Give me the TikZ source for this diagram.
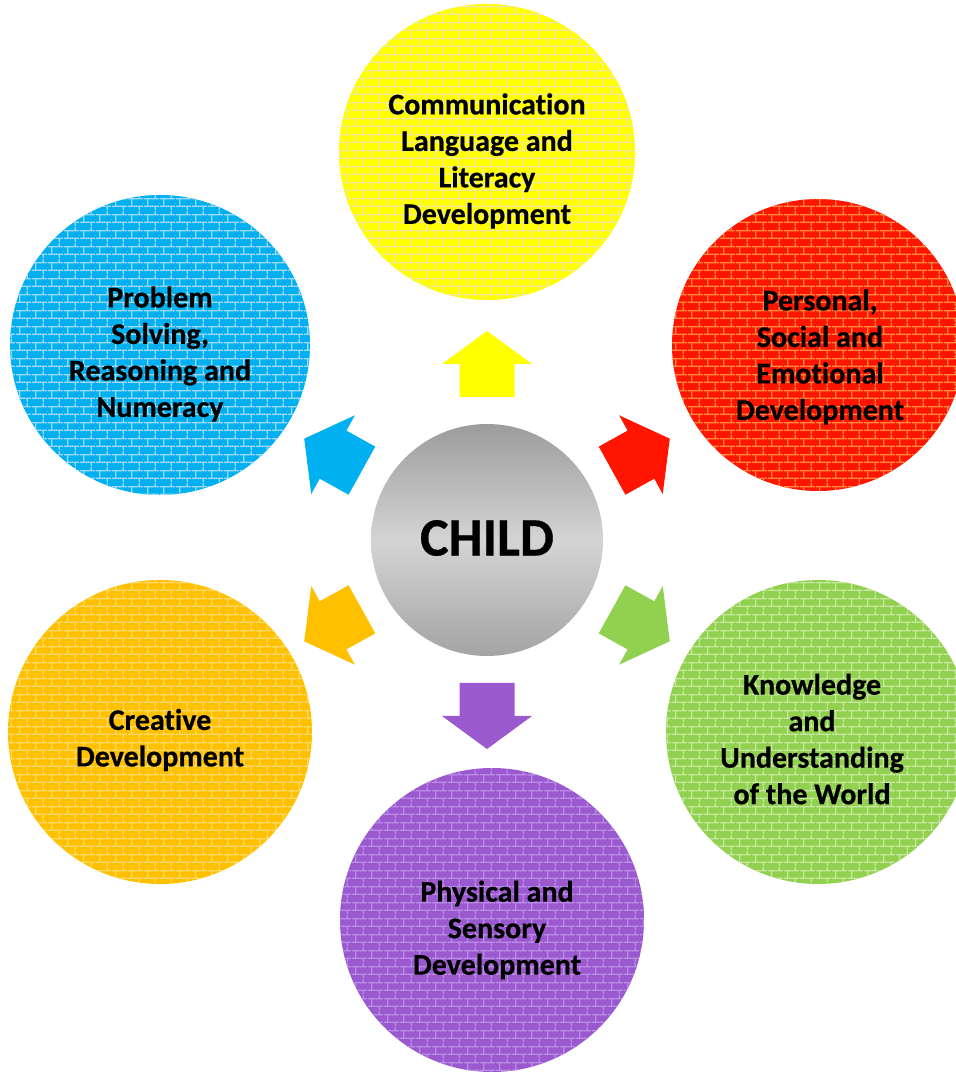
\documentclass[tikz,border=0pt]{standalone}
\usepackage{fontspec}
\setmainfont{Carlito}[Ligatures=NoCommon, BoldFeatures={FakeBold=0.5}]
\usetikzlibrary{patterns.meta}
\definecolor{cyel}{HTML}{FFFF00}
\definecolor{myel}{HTML}{F2E8A0}
\definecolor{cred}{HTML}{FF1500}
\definecolor{mred}{HTML}{FF8A3C}
\definecolor{cblu}{HTML}{00B0F0}
\definecolor{mblu}{HTML}{A2DAF6}
\definecolor{cora}{HTML}{FFC000}
\definecolor{mora}{HTML}{FFDA6A}
\definecolor{cgrn}{HTML}{92D050}
\definecolor{mgrn}{HTML}{C6E8A0}
\definecolor{cpur}{HTML}{9B59D0}
\definecolor{mpur}{HTML}{BB8CE6}
\definecolor{gtop}{HTML}{9C9C9C}
\definecolor{gmid}{HTML}{D4D4D4}
\definecolor{gbot}{HTML}{A4A4A4}
\tikzdeclarepattern{
  name=brickwall,
  type=uncolored,
  bottom left={(0pt,0pt)},
  top right={(16pt,16pt)},
  tile size={(16pt,16pt)},
  code={
    \draw[line width=1.3pt] (0pt,4pt) -- (16pt,4pt);
    \draw[line width=1.3pt] (0pt,12pt) -- (16pt,12pt);
    \draw[line width=1.3pt] (4pt,4pt) -- (4pt,12pt);
    \draw[line width=1.3pt] (12pt,12pt) -- (12pt,16pt);
    \draw[line width=1.3pt] (12pt,0pt) -- (12pt,4pt);
  }
}
\tikzset{
  bubble/.style 2 args={circle, minimum size=300pt, inner sep=0pt, fill=#1,
    postaction={pattern=brickwall, pattern color=#2}},
  btext/.style={align=center, font=\fontsize{30}{36.5}\selectfont\bfseries, inner sep=0pt},
  hub/.style={circle, minimum size=232pt, inner sep=0pt, top color=gtop,
    bottom color=gbot, middle color=gmid},
}
\begin{document}
\begin{tikzpicture}[x=1pt,y=1pt]
\useasboundingbox (0,0) rectangle (956,1074);
% centre
\node[hub] (c) at (487,534) {};
\node[font=\fontsize{54}{60}\selectfont\bfseries, inner sep=0pt] (ct) at (487,536) {CHILD};
% bubbles
\node[bubble={cyel}{myel}, minimum size=296pt] (yel) at (487,922) {};
\node[bubble={cblu}{mblu}] (blu) at (160,729) {};
\node[bubble={cred}{mred}, minimum size=292pt] (red) at (818,729) {};
\node[bubble={cora}{mora}, minimum size=304pt] (ora) at (160,342) {};
\node[bubble={cgrn}{mgrn}, minimum size=304pt] (grn) at (818,342) {};
\node[bubble={cpur}{mpur}, minimum size=304pt] (pur) at (492,154) {};
% texts
\node[btext] (yelt) at (487,913) {Communication\\Language and\\Literacy\\Development};
\node[btext] (blut) at (160,720) {Problem\\Solving,\\Reasoning and\\Numeracy};
\node[btext] (redt) at (820,717) {Personal,\\Social and\\Emotional\\Development};
\node[btext] (orat) at (160,334) {Creative\\Development};
\node[btext] (grnt) at (812,335) {Knowledge\\and\\Understanding\\of the World};
\node[btext] (purt) at (497,144) {Physical and\\Sensory\\Development};
% block arrows
\foreach \ang/\col in {90/cyel, 29/cred, 151/cblu, 209/cora, 331/cgrn, 270/cpur}{
  \fill[\col, shift={(c.center)}, rotate=\ang]
    (143,-27.5) -- (176,-27.5) -- (176,-45) -- (209,0) -- (176,45)
    -- (176,27.5) -- (143,27.5) -- cycle;
}
\end{tikzpicture}
\end{document}
